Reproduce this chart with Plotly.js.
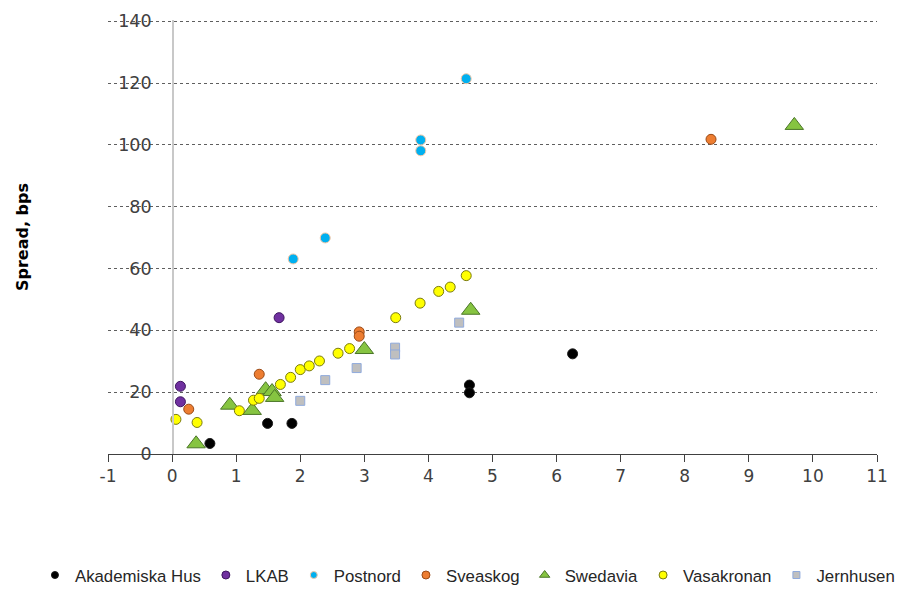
<!DOCTYPE html>
<html>
<head>
<meta charset="utf-8">
<script src="https://cdn.plot.ly/plotly-3.0.1.min.js"></script>
<style>html,body{margin:0;padding:0;background:#fff;}#chart{width:902px;height:590px;}</style>
</head>
<body>
<div id="chart"></div>
<script>
// Series names
const seriesNames = ["Akademiska Hus", "LKAB", "Postnord", "Sveaskog", "Swedavia", "Vasakronan", "Jernhusen"];

// Data (x: duration/years, y: spread in bps)
const akademiskaX = [0.59, 1.49, 1.87, 4.64, 4.64, 6.25];
const akademiskaY = [3.4, 9.9, 9.9, 22.3, 19.8, 32.4];

const lkabX = [0.13, 0.13, 1.67];
const lkabY = [21.9, 16.9, 44.1];

const postnordX = [1.89, 2.39, 3.88, 3.88, 4.59];
const postnordY = [63.1, 69.9, 101.6, 98.1, 121.4];

const sveaskogX = [0.26, 1.36, 2.92, 2.92, 8.41];
const sveaskogY = [14.5, 25.8, 39.5, 38.1, 101.8];

const swedaviaX = [0.375, 0.9, 1.25, 1.46, 1.56, 1.6, 3.0, 4.66, 9.71];
const swedaviaY = [3.3, 15.8, 14.1, 20.8, 20.2, 18.3, 33.8, 46.5, 106.3];

const vasakronanX = [0.06, 0.39, 1.05, 1.27, 1.36, 1.69, 1.85, 2.0, 2.14, 2.30, 2.59, 2.77, 3.49, 3.87, 4.16, 4.34, 4.59];
const vasakronanY = [11.2, 10.2, 14.0, 17.4, 18.0, 22.5, 24.8, 27.3, 28.5, 30.1, 32.6, 34.1, 44.1, 48.8, 52.6, 54.0, 57.7];

const jernhusenX = [2.0, 2.39, 2.88, 3.48, 3.48, 4.48];
const jernhusenY = [17.2, 23.9, 27.8, 34.4, 32.2, 42.5];

const xTickVals = [-1, 0, 1, 2, 3, 4, 5, 6, 7, 8, 9, 10, 11];
const yTickVals = [0, 20, 40, 60, 80, 100, 120, 140];

const seriesX = [akademiskaX, lkabX, postnordX, sveaskogX, swedaviaX, vasakronanX, jernhusenX];
const seriesY = [akademiskaY, lkabY, postnordY, sveaskogY, swedaviaY, vasakronanY, jernhusenY];

const styles = [
  {symbol: "circle", color: "#000000", line: "#1a1a1a", size: 10, lsize: 7},
  {symbol: "circle", color: "#7030A0", line: "#3e1560", size: 10, lsize: 8},
  {symbol: "circle", color: "#00B0F0", line: "#F4C7A6", size: 10, lsize: 7},
  {symbol: "circle", color: "#ED7D31", line: "#9a4a16", size: 10, lsize: 8},
  {symbol: "triangle-up", color: "#86C441", line: "#4a7527", size: 16, lsize: 9},
  {symbol: "circle", color: "#FFFF00", line: "#7a7a10", size: 10, lsize: 8},
  {symbol: "square", color: "#BFBFBF", line: "#8FAADC", size: 9, lsize: 7}
];

const traces = [];
seriesNames.forEach((name, i) => {
  const st = styles[i];
  traces.push({
    type: "scatter", mode: "markers", name: name,
    x: seriesX[i], y: seriesY[i],
    legendgroup: name, showlegend: false,
    marker: {symbol: st.symbol, color: st.color, size: st.size, line: {color: st.line, width: 1}},
    hoverinfo: "x+y+name"
  });
});
// legend entries (small markers as in the original)
seriesNames.forEach((name, i) => {
  const st = styles[i];
  traces.push({
    type: "scatter", mode: "markers", name: name,
    x: [null], y: [null],
    legendgroup: name, showlegend: true,
    marker: {symbol: st.symbol, color: st.color, size: st.lsize, line: {color: st.line, width: 1}}
  });
});

const layout = {
  width: 902, height: 590,
  margin: {l: 108, r: 25, t: 20, b: 136, autoexpand: false},
  paper_bgcolor: "#ffffff", plot_bgcolor: "#ffffff",
  font: {family: "DejaVu Sans, sans-serif", color: "#404040"},
  showlegend: true,
  xaxis: {
    range: [-1, 11], tickvals: xTickVals, ticktext: xTickVals.map(String),
    showgrid: false, zeroline: false,
    showline: true, linecolor: "#404040", linewidth: 1,
    ticks: "outside", ticklen: 7, tickcolor: "#404040", tickwidth: 1,
    tickfont: {size: 17, color: "#404040", family: "DejaVu Sans, sans-serif"},
    fixedrange: true
  },
  yaxis: {
    range: [0, 140.4], tickvals: yTickVals, ticktext: yTickVals.map(String),
    anchor: "free", position: 1/12,
    showgrid: true, gridcolor: "#5f5f5f", gridwidth: 1, griddash: "dot",
    zeroline: false,
    showline: true, linecolor: "#c8c8c8", linewidth: 1.5,
    ticks: "", ticklabelstandoff: 17,
    tickfont: {size: 17.5, color: "#404040", family: "DejaVu Sans, sans-serif"},
    title: {text: "Spread, bps", font: {size: 16, color: "#000000", family: "DejaVu Sans, sans-serif", weight: "bold"}, standoff: 84},
    fixedrange: true
  },
  legend: {
    orientation: "h", xref: "paper", yref: "paper",
    x: -0.095, xanchor: "left", y: -0.279, yanchor: "middle",
    font: {size: 16.8, color: "#262626", family: "Liberation Sans, Arial, sans-serif"},
    itemwidth: 30, tracegroupgap: 0, bgcolor: "rgba(0,0,0,0)"
  }
};

Plotly.newPlot("chart", traces, layout, {displayModeBar: false, staticPlot: true});
</script>
</body>
</html>
